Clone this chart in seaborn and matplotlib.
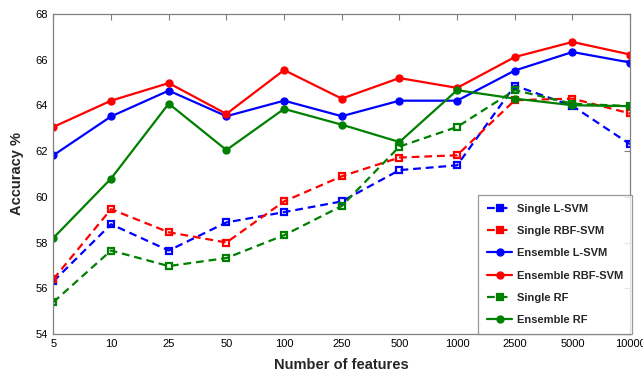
import numpy as np
import pandas as pd
import matplotlib
matplotlib.use("Agg")
import matplotlib.pyplot as plt
import seaborn as sns

features = ["5", "10", "25", "50", "100", "250", "500", "1000", "2500", "5000", "10000"]

single_lsvm = [56.3, 58.8, 57.65, 58.88, 59.33, 59.8, 61.17, 61.38, 64.87, 63.98, 62.3]
single_rbf = [56.4, 59.46, 58.45, 58.0, 59.8, 60.9, 61.72, 61.82, 64.23, 64.3, 63.65]
ens_lsvm = [61.82, 63.52, 64.65, 63.53, 64.21, 63.53, 64.21, 64.21, 65.53, 66.34, 65.88]
ens_rbf = [63.06, 64.21, 64.98, 63.63, 65.55, 64.3, 65.2, 64.77, 66.12, 66.78, 66.23]
single_rf = [55.39, 57.65, 56.97, 57.32, 58.32, 59.6, 62.2, 63.06, 64.67, 64.08, 63.97]
ens_rf = [58.2, 60.8, 64.08, 62.05, 63.85, 63.16, 62.4, 64.67, 64.3, 64.01, 63.97]

series = [
    ("Single L-SVM", single_lsvm, "#0000FF", True),
    ("Single RBF-SVM", single_rbf, "#FF0000", True),
    ("Ensemble L-SVM", ens_lsvm, "#0000FF", False),
    ("Ensemble RBF-SVM", ens_rbf, "#FF0000", False),
    ("Single RF", single_rf, "#008000", True),
    ("Ensemble RF", ens_rf, "#008000", False),
]

sns.set_style("white")
plt.rcParams["font.family"] = ["Liberation Sans", "DejaVu Sans"]

fig, ax = plt.subplots(figsize=(6.43, 3.71), dpi=100)
fig.subplots_adjust(left=0.083, right=0.98, top=0.962, bottom=0.1)

pos = np.arange(len(features))
for name, vals, color, dashed in series:
    df = pd.DataFrame({"x": pos, "y": vals})
    if dashed:
        sns.lineplot(data=df, x="x", y="y", ax=ax, color=color, lw=1.6,
                     linestyle=(0, (3.5, 2.2)), marker="s", markersize=5,
                     markerfacecolor="none", markeredgecolor=color, mew=1.6,
                     label=name)
    else:
        sns.lineplot(data=df, x="x", y="y", ax=ax, color=color, lw=1.6,
                     marker="o", markersize=5, markerfacecolor=color,
                     markeredgecolor=color, mew=1, label=name)

ax.set_xlim(0, len(features) - 1)
ax.set_ylim(54, 68)
ax.set_xticks(pos)
ax.set_xticklabels(features)
ax.set_yticks(np.arange(54, 69, 2))
ax.tick_params(axis="both", direction="in", length=4, width=0.8, labelsize=8,
               top=True, right=True, colors="#808080", labelcolor="black", pad=4)
for s in ax.spines.values():
    s.set_color("#808080")
    s.set_linewidth(0.9)

ax.set_xlabel("Number of features", fontsize=10.5, fontweight="bold", labelpad=6)
ax.set_ylabel("Accuracy %", fontsize=10.5, fontweight="bold", labelpad=8)

leg = ax.legend(loc="lower right", bbox_to_anchor=(1.003, 0.0), prop={"size": 8, "weight": "bold"},
                frameon=True, fancybox=False, edgecolor="#808080", labelspacing=1.1,
                handlelength=2.3, handletextpad=0.4, borderpad=0.8, borderaxespad=0.0)
leg.get_frame().set_linewidth(0.9)
for h in leg.get_lines():
    h.set_markerfacecolor(h.get_color())

fig.savefig("out.png", dpi=100, facecolor="white")
